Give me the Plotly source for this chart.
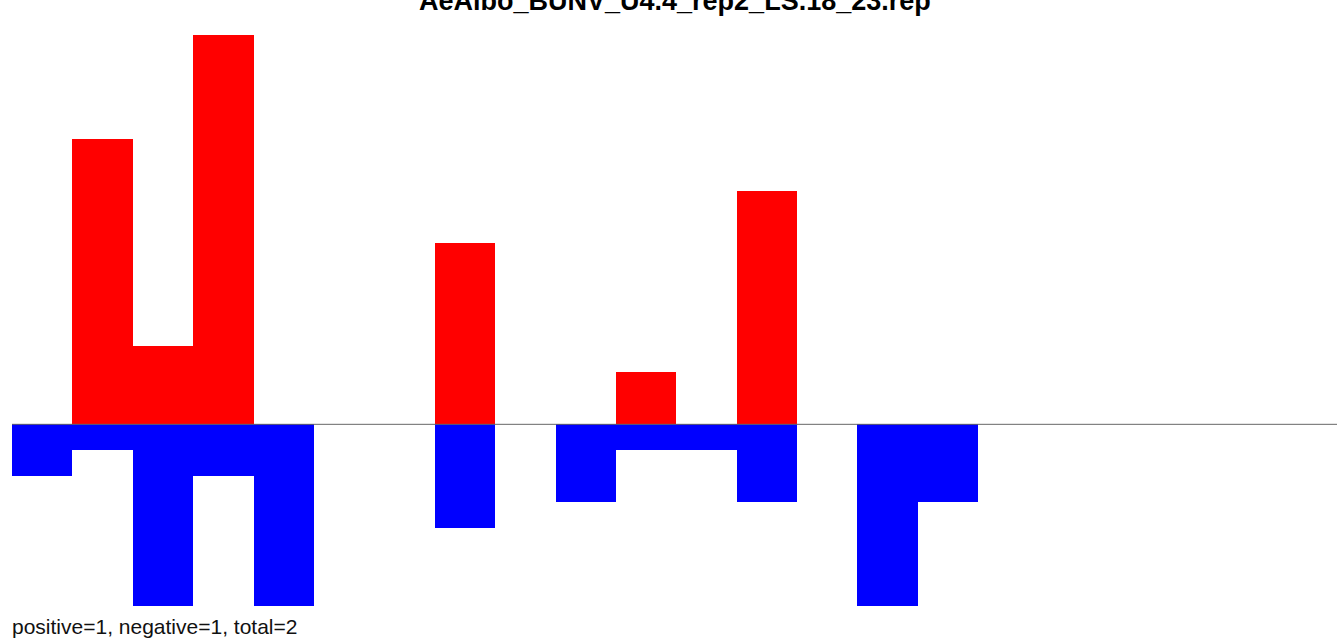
import plotly.graph_objects as go

bins = list(range(22))
positive = [0, 11, 3, 15, 0, 0, 0, 7, 0, 0, 2, 0, 9, 0, 0, 0, 0, 0, 0, 0, 0, 0]
negative = [2, 1, 7, 2, 7, 0, 0, 4, 0, 3, 1, 1, 3, 0, 7, 3, 0, 0, 0, 0, 0, 0]
title_text = "AeAlbo_BUNV_U4.4_rep2_LS.18_23.rep"
footer_text = "positive=1, negative=1, total=2"

W, H = 1337, 638
mt, mb, ml, mr = 35, 32, 12, 0
plot_h = H - mt - mb
plot_w = W - ml - mr

fig = go.Figure()
fig.add_trace(go.Bar(x=[b + 0.5 for b in bins], y=positive, width=1,
                     marker=dict(color="#FF0000", line=dict(width=0)), showlegend=False))
fig.add_trace(go.Bar(x=[b + 0.5 for b in bins], y=[-v for v in negative], width=1,
                     marker=dict(color="#0000FF", line=dict(width=0)), showlegend=False))

fig.add_shape(type="line", xref="paper", yref="y", x0=0, x1=1, y0=0, y1=0,
              line=dict(color="#666666", width=1), layer="above")

fig.add_annotation(text="<b>" + title_text + "</b>", xref="paper", yref="paper",
                   x=(675 - ml) / plot_w, y=1 + 17 / plot_h, xanchor="center", yanchor="bottom",
                   showarrow=False, font=dict(family="Liberation Sans, Arial", size=27, color="black"))
fig.add_annotation(text=footer_text, xref="paper", yref="paper",
                   x=-2 / plot_w, y=-20 / plot_h, xanchor="left", yanchor="middle",
                   showarrow=False, font=dict(family="Liberation Sans, Arial", size=21, color="#111111"))

fig.update_layout(
    width=W, height=H,
    margin=dict(t=mt, b=mb, l=ml, r=mr, pad=0),
    barmode="overlay", bargap=0,
    plot_bgcolor="white", paper_bgcolor="white",
    xaxis=dict(range=[0, 21.94], visible=False, fixedrange=True),
    yaxis=dict(range=[-7, 15], visible=False, fixedrange=True),
)

fig.write_html("out.html", config={"displayModeBar": False},
               post_script="document.body.style.margin='0';document.body.style.overflow='hidden';")
